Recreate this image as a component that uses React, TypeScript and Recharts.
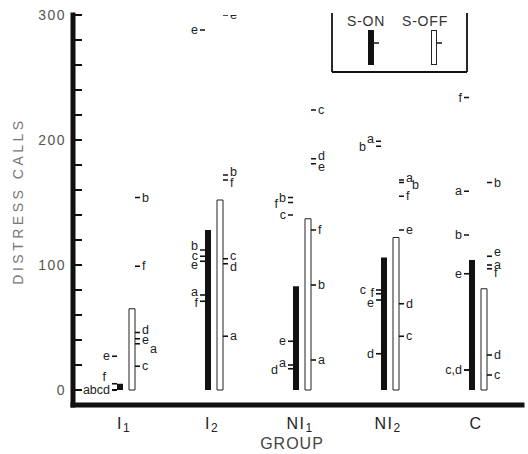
import React from 'react';
import { ComposedChart, Bar, Scatter, XAxis, YAxis, Legend } from 'recharts';

const groups = ['I1', 'I2', 'NI1', 'NI2', 'C'];
const letters = ['a', 'b', 'c', 'd', 'e', 'f'];

// group means (bar heights)
const sOnMean = [5, 128, 83, 106, 104];
const sOffMean = [65, 152, 137, 122, 81];

// individual animals, S-ON condition
const onA = [0, 76, 20, 199, 159];
const onB = [0, 112, 154, 195, 124];
const onC = [0, 107, 140, 80, 16];
const onD = [0, 103, 17, 29, 16];
const onE = [27, 288, 39, 72, 93];
const onF = [5, 71, 150, 77, 234];

// individual animals, S-OFF condition
const offA = [37, 43, 24, 168, 100];
const offB = [154, 172, 84, 166, 166];
const offC = [19, 105, 224, 43, 12];
const offD = [46, 101, 185, 69, 28];
const offE = [41, 300, 181, 128, 107];
const offF = [99, 168, 128, 155, 97];

const yTicks = [0, 20, 40, 60, 80, 100, 120, 140, 160, 180, 200, 220, 240, 260, 280, 300];

const onSeries = [onA, onB, onC, onD, onE, onF];
const offSeries = [offA, offB, offC, offD, offE, offF];

const data = groups.map((g, i) => {
    const row: any = { group: g, sOn: sOnMean[i], sOff: sOffMean[i] };
    letters.forEach((l, j) => {
        row['on_' + l] = onSeries[j][i];
        row['off_' + l] = offSeries[j][i];
    });
    return row;
});

// label tweaks where letters sit on top of each other in the original
const labelText: Record<string, string> = {
    'on-a-0': 'abcd', 'on-b-0': '', 'on-c-0': '', 'on-d-0': '',
    'on-d-1': 'e',
    'on-c-4': 'c,d', 'on-d-4': '',
};
const nudges: Record<string, [number, number]> = {
    'on-f-0': [-4, -7],
    'off-d-0': [0, -3], 'off-e-0': [0, 1], 'off-a-0': [8, 5],
    'on-b-1': [0, -4], 'on-d-1': [0, 4], 'on-a-1': [0, -3], 'on-f-1': [0, 2],
    'off-b-1': [0, -3], 'off-f-1': [0, 3], 'off-c-1': [0, -3], 'off-d-1': [0, 3],
    'on-f-2': [-8, 1], 'on-a-2': [0, -2], 'on-d-2': [-8, 1],
    'off-d-2': [0, -3], 'off-e-2': [0, 3],
    'on-a-3': [0, -2], 'on-b-3': [-8, 1], 'on-c-3': [-8, 0], 'on-f-3': [0, -1], 'on-e-3': [0, 3],
    'off-a-3': [0, -2], 'off-b-3': [6, 2],
    'off-e-4': [0, -4], 'off-a-4': [0, 0], 'off-f-4': [0, 4],
};

const FONT = '"Liberation Sans", Arial, Helvetica, sans-serif';

const makeMark = (side: 'on' | 'off', letter: string) => (props: any) => {
    const { cx, cy, payload } = props;
    if (cx == null || cy == null) return <g />;
    const gi = groups.indexOf(payload.group);
    const key = `${side}-${letter}-${gi}`;
    const [dx, dy] = nudges[key] || [0, 0];
    const text = key in labelText ? labelText[key] : letter;
    const x0 = side === 'on' ? cx - 14 : cx + 9;
    const tx = side === 'on' ? cx - 16 + dx : cx + 16 + dx;
    return (
        <g>
            <line x1={x0} x2={x0 + 5} y1={cy} y2={cy} stroke="#111" strokeWidth={1.6} />
            {text && (
                <text x={tx} y={cy + 4 + dy} textAnchor={side === 'on' ? 'end' : 'start'}
                    fontSize={12.5} fill="#222" fontFamily={FONT}>{text}</text>
            )}
        </g>
    );
};

const YTick = ({ x, y, payload }: any) => (
    <g>
        <line x1={x} x2={x + 9} y1={y} y2={y} stroke="#111" strokeWidth={2} />
        {payload.value % 100 === 0 && (
            <text x={x - 7} y={y + 5} textAnchor="end" fontSize={14} letterSpacing={1.5}
                fill="#555" fontFamily={FONT}>{payload.value}</text>
        )}
    </g>
);

const GroupTick = ({ x, y, payload }: any) => {
    const m = /^(.*?)(\d)$/.exec(payload.value);
    const main = m ? m[1] : payload.value;
    const sub = m ? m[2] : '';
    return (
        <text x={x - 2} y={y + 24} textAnchor="middle" fontSize={16} letterSpacing={1.5}
            fill="#222" fontFamily={FONT}>
            {main}
            {sub && <tspan fontSize={12} dy={3}>{sub}</tspan>}
        </text>
    );
};

const renderLegend = () => (
    <svg width={140} height={66}>
        <g stroke="#111" strokeWidth={1.8}>
            <line x1={2} x2={2} y1={3} y2={62} />
            <line x1={137} x2={137} y1={3} y2={62} />
            <line x1={2} x2={137} y1={62} y2={62} />
        </g>
        <text x={17} y={16} fontSize={14} letterSpacing={0.8} fill="#333" fontFamily={FONT}>S-ON</text>
        <text x={72} y={16} fontSize={14} letterSpacing={0.8} fill="#333" fontFamily={FONT}>S-OFF</text>
        <rect x={38} y={20} width={6} height={35} fill="#111" />
        <line x1={44} x2={49} y1={33} y2={33} stroke="#111" strokeWidth={1.5} />
        <rect x={101.5} y={20.5} width={5} height={34} fill="#fff" stroke="#222" strokeWidth={1} />
        <line x1={107} x2={112} y1={33} y2={33} stroke="#111" strokeWidth={1.5} />
    </svg>
);

export default function App() {
    return (
        <div style={{ position: 'absolute', left: 0, top: 0, width: 528, height: 454, background: '#fff' }}>
            <ComposedChart width={528} height={454} data={data} barGap={6}
                margin={{ top: 15, right: 6, left: 13, bottom: 19 }}>
                <XAxis dataKey="group" height={30} padding={{ left: 9, right: 0 }}
                    axisLine={{ stroke: '#111', strokeWidth: 5, strokeLinecap: 'square' }}
                    tickLine={false} tickSize={0} tickMargin={0} tick={<GroupTick />}
                    label={{
                        content: () => (
                            <text x={292} y={449} textAnchor="middle" fontSize={16} letterSpacing={1}
                                fill="#444" fontFamily={FONT}>GROUP</text>
                        ),
                    }} />
                <YAxis width={60} domain={[-12, 300]} allowDataOverflow ticks={yTicks} interval={0}
                    axisLine={{ stroke: '#111', strokeWidth: 5, strokeLinecap: 'square' }}
                    tickLine={false} tickSize={0} tickMargin={0} tick={<YTick />}
                    label={{
                        content: () => (
                            <text x={23} y={201} transform="rotate(-90 23 201)" textAnchor="middle"
                                fontSize={14} letterSpacing={3.5} fill="#777" fontFamily={FONT}>
                                DISTRESS CALLS
                            </text>
                        ),
                    }} />
                <Legend layout="vertical" align="center" verticalAlign="middle" width={140} height={66}
                    content={renderLegend}
                    wrapperStyle={{ position: 'absolute', left: 330, top: 10, width: 140, height: 66 }} />
                <Bar dataKey="sOn" fill="#111" barSize={6} isAnimationActive={false} />
                <Bar dataKey="sOff" fill="#fff" stroke="#222" strokeWidth={1} barSize={6} isAnimationActive={false} />
                {letters.map((l) => (
                    <Scatter key={'on' + l} dataKey={'on_' + l} shape={makeMark('on', l)}
                        legendType="none" isAnimationActive={false} />
                ))}
                {letters.map((l) => (
                    <Scatter key={'off' + l} dataKey={'off_' + l} shape={makeMark('off', l)}
                        legendType="none" isAnimationActive={false} />
                ))}
            </ComposedChart>
        </div>
    );
}
